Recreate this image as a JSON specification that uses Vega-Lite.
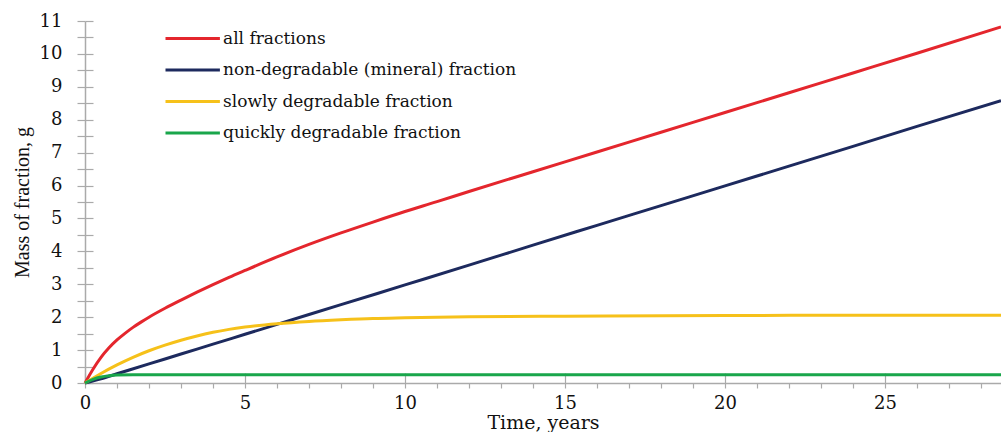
{
  "$schema": "https://vega.github.io/schema/vega-lite/v6.json",
  "width": 916,
  "height": 362,
  "autosize": "none",
  "padding": {"left": 85, "top": 21, "right": 0, "bottom": 49},
  "background": "white",
  "config": {
    "view": {"stroke": null},
    "axis": {"grid": false, "domainColor": "#aaaaaa", "tickColor": "#aaaaaa", "domainWidth": 1.5, "tickWidth": 1.2, "labelFont": "DejaVu Serif", "labelFontSize": 18, "labelColor": "#111", "titleColor": "#111", "labelFontWeight": "normal", "titleFontWeight": "normal", "labelFlush": false},
    "legend": {"orient": "none", "legendX": 79, "legendY": 8, "padding": 0, "title": null, "symbolType": "M-1,0H5.8", "symbolSize": 256, "symbolStrokeWidth": 3, "labelFont": "DejaVu Serif", "labelFontSize": 17, "labelColor": "#111", "labelOffset": 40, "rowPadding": 13.5, "labelLimit": 500}
  },
  "data": {"values": [
    {"t": 0, "s": "all fractions", "m": 0},
    {"t": 0.25, "s": "all fractions", "m": 0.42},
    {"t": 0.5, "s": "all fractions", "m": 0.78},
    {"t": 0.75, "s": "all fractions", "m": 1.07},
    {"t": 1, "s": "all fractions", "m": 1.31},
    {"t": 1.25, "s": "all fractions", "m": 1.51},
    {"t": 1.5, "s": "all fractions", "m": 1.69},
    {"t": 1.75, "s": "all fractions", "m": 1.85},
    {"t": 2, "s": "all fractions", "m": 2.0},
    {"t": 2.5, "s": "all fractions", "m": 2.27},
    {"t": 3, "s": "all fractions", "m": 2.52},
    {"t": 3.5, "s": "all fractions", "m": 2.76},
    {"t": 4, "s": "all fractions", "m": 2.99},
    {"t": 4.5, "s": "all fractions", "m": 3.21},
    {"t": 5, "s": "all fractions", "m": 3.42},
    {"t": 6, "s": "all fractions", "m": 3.83},
    {"t": 7, "s": "all fractions", "m": 4.21},
    {"t": 8, "s": "all fractions", "m": 4.56},
    {"t": 9, "s": "all fractions", "m": 4.89},
    {"t": 10, "s": "all fractions", "m": 5.21},
    {"t": 11, "s": "all fractions", "m": 5.51},
    {"t": 12, "s": "all fractions", "m": 5.82},
    {"t": 14, "s": "all fractions", "m": 6.42},
    {"t": 16, "s": "all fractions", "m": 7.02},
    {"t": 18, "s": "all fractions", "m": 7.62},
    {"t": 20, "s": "all fractions", "m": 8.22},
    {"t": 22, "s": "all fractions", "m": 8.82},
    {"t": 24, "s": "all fractions", "m": 9.42},
    {"t": 26, "s": "all fractions", "m": 10.02},
    {"t": 28.625, "s": "all fractions", "m": 10.82},
    {"t": 0, "s": "non-degradable (mineral) fraction", "m": 0},
    {"t": 0.5, "s": "non-degradable (mineral) fraction", "m": 0.13},
    {"t": 1, "s": "non-degradable (mineral) fraction", "m": 0.28},
    {"t": 2, "s": "non-degradable (mineral) fraction", "m": 0.58},
    {"t": 3, "s": "non-degradable (mineral) fraction", "m": 0.88},
    {"t": 4, "s": "non-degradable (mineral) fraction", "m": 1.18},
    {"t": 5, "s": "non-degradable (mineral) fraction", "m": 1.48},
    {"t": 6, "s": "non-degradable (mineral) fraction", "m": 1.78},
    {"t": 8, "s": "non-degradable (mineral) fraction", "m": 2.38},
    {"t": 10, "s": "non-degradable (mineral) fraction", "m": 2.98},
    {"t": 12, "s": "non-degradable (mineral) fraction", "m": 3.58},
    {"t": 14, "s": "non-degradable (mineral) fraction", "m": 4.19},
    {"t": 16, "s": "non-degradable (mineral) fraction", "m": 4.79},
    {"t": 18, "s": "non-degradable (mineral) fraction", "m": 5.39},
    {"t": 20, "s": "non-degradable (mineral) fraction", "m": 5.99},
    {"t": 22, "s": "non-degradable (mineral) fraction", "m": 6.59},
    {"t": 24, "s": "non-degradable (mineral) fraction", "m": 7.19},
    {"t": 26, "s": "non-degradable (mineral) fraction", "m": 7.8},
    {"t": 28.625, "s": "non-degradable (mineral) fraction", "m": 8.58},
    {"t": 0, "s": "slowly degradable  fraction", "m": 0},
    {"t": 0.5, "s": "slowly degradable  fraction", "m": 0.29},
    {"t": 1, "s": "slowly degradable  fraction", "m": 0.55},
    {"t": 1.5, "s": "slowly degradable  fraction", "m": 0.78},
    {"t": 2, "s": "slowly degradable  fraction", "m": 0.98},
    {"t": 2.5, "s": "slowly degradable  fraction", "m": 1.15},
    {"t": 3, "s": "slowly degradable  fraction", "m": 1.3},
    {"t": 3.5, "s": "slowly degradable  fraction", "m": 1.43},
    {"t": 4, "s": "slowly degradable  fraction", "m": 1.54},
    {"t": 4.5, "s": "slowly degradable  fraction", "m": 1.63},
    {"t": 5, "s": "slowly degradable  fraction", "m": 1.7},
    {"t": 6, "s": "slowly degradable  fraction", "m": 1.8},
    {"t": 7, "s": "slowly degradable  fraction", "m": 1.87},
    {"t": 8, "s": "slowly degradable  fraction", "m": 1.92},
    {"t": 9, "s": "slowly degradable  fraction", "m": 1.96},
    {"t": 10, "s": "slowly degradable  fraction", "m": 1.98},
    {"t": 12, "s": "slowly degradable  fraction", "m": 2.01},
    {"t": 15, "s": "slowly degradable  fraction", "m": 2.03},
    {"t": 20, "s": "slowly degradable  fraction", "m": 2.05},
    {"t": 25, "s": "slowly degradable  fraction", "m": 2.06},
    {"t": 28.625, "s": "slowly degradable  fraction", "m": 2.06},
    {"t": 0, "s": "quickly degradable fraction", "m": 0},
    {"t": 0.25, "s": "quickly degradable fraction", "m": 0.11},
    {"t": 0.5, "s": "quickly degradable fraction", "m": 0.18},
    {"t": 0.75, "s": "quickly degradable fraction", "m": 0.22},
    {"t": 1, "s": "quickly degradable fraction", "m": 0.24},
    {"t": 1.5, "s": "quickly degradable fraction", "m": 0.25},
    {"t": 2, "s": "quickly degradable fraction", "m": 0.25},
    {"t": 5, "s": "quickly degradable fraction", "m": 0.25},
    {"t": 10, "s": "quickly degradable fraction", "m": 0.25},
    {"t": 15, "s": "quickly degradable fraction", "m": 0.25},
    {"t": 20, "s": "quickly degradable fraction", "m": 0.25},
    {"t": 25, "s": "quickly degradable fraction", "m": 0.25},
    {"t": 28.625, "s": "quickly degradable fraction", "m": 0.25}
  ]},
  "resolve": {"axis": {"x": "independent", "y": "independent"}},
  "layer": [
    {
      "mark": {"type": "line", "strokeOpacity": 0},
      "encoding": {
        "x": {"field": "t", "type": "quantitative", "scale": {"domain": [0, 28.625], "nice": false, "zero": false},
          "axis": {"orient": "bottom", "values": [0, 5, 10, 15, 20, 25], "ticks": false, "domain": false, "labelPadding": 11, "labelFlush": false, "title": null}},
        "y": {"field": "m", "type": "quantitative", "scale": {"domain": [0, 11], "nice": false},
          "axis": {"orient": "left", "values": [0, 0.5, 1, 1.5, 2, 2.5, 3, 3.5, 4, 4.5, 5, 5.5, 6, 6.5, 7, 7.5, 8, 8.5, 9, 9.5, 10, 10.5, 11], "tickSize": -8, "labels": false, "domain": false, "title": null}},
        "detail": {"field": "s"}
      }
    },
    {
      "mark": {"type": "line", "strokeOpacity": 0},
      "encoding": {
        "x": {"field": "t", "type": "quantitative",
          "axis": {"orient": "bottom", "values": [0, 5, 10, 15, 20, 25], "tickSize": -10, "labels": false, "domain": false, "title": null}},
        "y": {"field": "m", "type": "quantitative", "axis": null},
        "detail": {"field": "s"}
      }
    },
    {
      "mark": {"type": "line", "strokeWidth": 3, "interpolate": "monotone"},
      "encoding": {
        "x": {"field": "t", "type": "quantitative",
          "axis": {"orient": "bottom", "values": [0, 1, 2, 3, 4, 5, 6, 7, 8, 9, 10, 11, 12, 13, 14, 15, 16, 17, 18, 19, 20, 21, 22, 23, 24, 25, 26, 27, 28], "tickSize": 5, "labels": false, "title": "Time, years", "titleFont": "DejaVu Serif", "titleFontSize": 19, "titleBaseline": "alphabetic", "titleY": 45}},
        "y": {"field": "m", "type": "quantitative",
          "axis": {"orient": "left", "values": [0, 0.5, 1, 1.5, 2, 2.5, 3, 3.5, 4, 4.5, 5, 5.5, 6, 6.5, 7, 7.5, 8, 8.5, 9, 9.5, 10, 10.5, 11], "tickSize": 8, "labelPadding": 15, "labelFlush": false, "labelExpr": "datum.value % 1 == 0 ? format(datum.value, 'd') : ''", "title": "Mass of fraction, g", "titleFont": "Liberation Serif", "titleFontSize": 20, "titleBaseline": "alphabetic", "titleX": -57, "titleAngle": -90}},
        "color": {"field": "s", "type": "nominal", "sort": null,
          "scale": {"domain": ["all fractions", "non-degradable (mineral) fraction", "slowly degradable  fraction", "quickly degradable fraction"], "range": ["#e4262d", "#1d2a5e", "#f6c11a", "#19a64b"]}}
      }
    }
  ]
}
